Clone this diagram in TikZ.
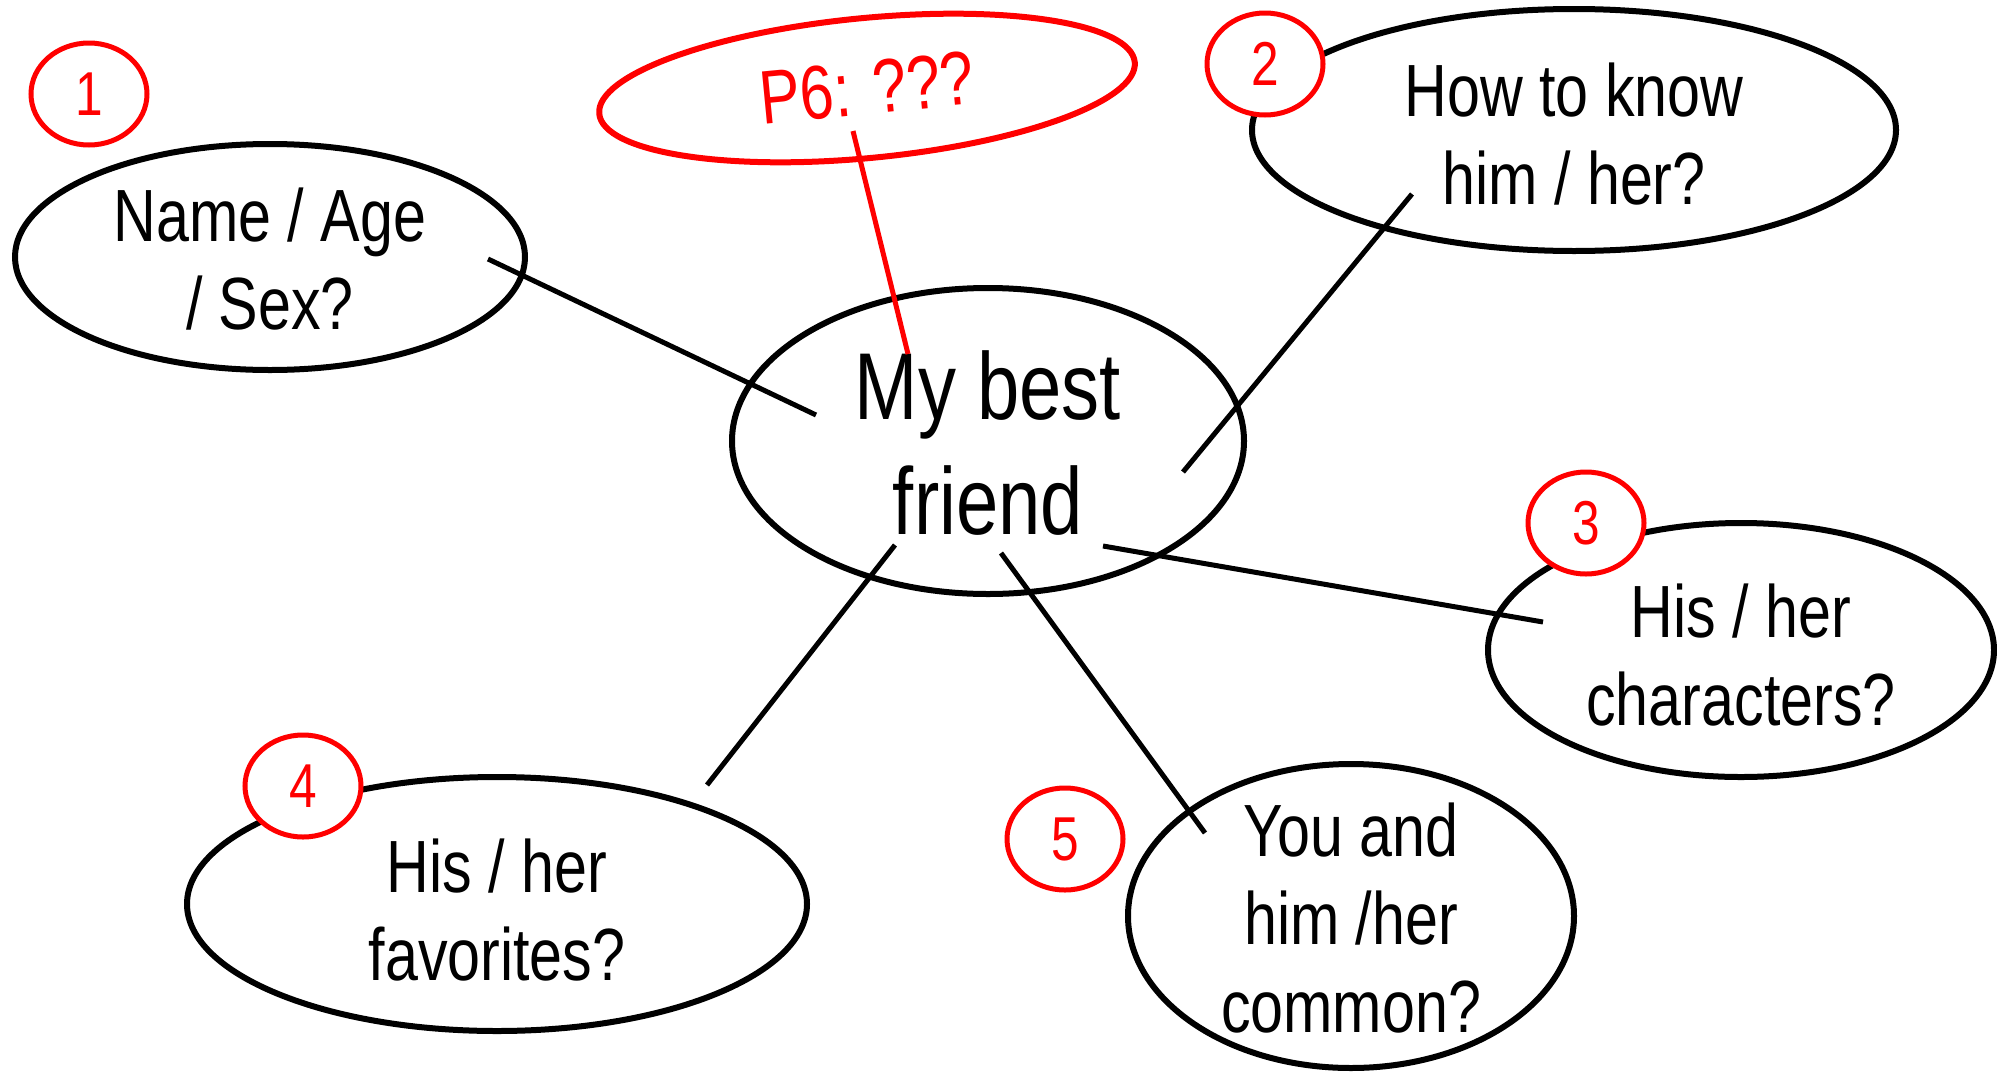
\documentclass[tikz,border=0pt]{standalone}
\usepackage{fontspec}
\setmainfont{Liberation Sans}[FakeStretch=0.8]
\usetikzlibrary{shapes.geometric}
\tikzset{
  bubble/.style={ellipse, draw=black, line width=6pt, inner sep=0pt},
  num/.style={ellipse, draw=red, fill=white, line width=5pt, minimum width=116pt,
    minimum height=102pt, text=red, inner sep=0pt, font=\fontsize{62}{62}\selectfont},
  txt/.style={align=center, inner sep=0pt, font=\fontsize{74}{88}\selectfont},
  link/.style={line width=5pt, draw=black},
  redlink/.style={line width=5pt, draw=red},
}
\begin{document}
\begin{tikzpicture}[x=1pt, y=-1pt]
\useasboundingbox (0,0) rectangle (1997,1071);
% ellipses
\node[bubble, minimum width=510pt, minimum height=226pt] (name) at (270,257) {};
\node[bubble, minimum width=644pt, minimum height=242pt] (how) at (1574,130) {};
\node[bubble, minimum width=512pt, minimum height=306pt] (mbf) at (988,441) {};
\node[bubble, minimum width=506pt, minimum height=254pt] (char) at (1741,650) {};
\node[bubble, minimum width=620pt, minimum height=254pt] (fav) at (497,904) {};
\node[bubble, minimum width=446pt, minimum height=304pt] (you) at (1351,916) {};
\node[ellipse, draw=red, line width=6pt, inner sep=0pt, minimum width=538pt,
  minimum height=140pt, rotate=5.5, text=red, font=\fontsize{76}{76}\selectfont]
  (p6) at (867,88) {P6: ???};
% texts
\node[txt] (name-t) at (270,259) {Name / Age\\/ Sex?};
\node[txt] (how-t) at (1574,134) {How to know\\him / her?};
\node[txt, font=\fontsize{95}{115}\selectfont] (mbf-t) at (988,443) {My best\\friend};
\node[txt] (char-t) at (1741,655) {His / her\\characters?};
\node[txt] (fav-t) at (497,910) {His / her\\favorites?};
\node[txt] (you-t) at (1351,918) {You and\\him /her\\common?};
% connector ends
\coordinate (l1a) at (488,259); \coordinate (l1b) at (816,415);
\coordinate (l2a) at (1412,194); \coordinate (l2b) at (1183,472);
\coordinate (l3a) at (1103,546); \coordinate (l3b) at (1543,622);
\coordinate (l4a) at (895,545); \coordinate (l4b) at (707,785);
\coordinate (l5a) at (1001,553); \coordinate (l5b) at (1205,833);
\coordinate (r1a) at (853,131); \coordinate (r1b) at (908,354);
\draw[link] (l1a) -- (l1b);
\draw[link] (l2a) -- (l2b);
\draw[link] (l3a) -- (l3b);
\draw[link] (l4a) -- (l4b);
\draw[link] (l5a) -- (l5b);
\draw[redlink] (r1a) -- (r1b);
% number circles
\node[num] (n1) at (89,94) {1};
\node[num] (n2) at (1265,64) {2};
\node[num] (n3) at (1586,523) {3};
\node[num] (n4) at (303,786) {4};
\node[num] (n5) at (1065,839) {5};
\end{tikzpicture}
\end{document}
